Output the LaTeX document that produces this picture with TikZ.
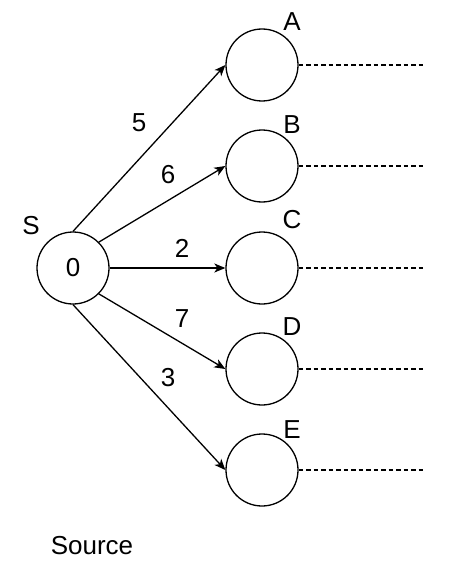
\documentclass[tikz,border=0pt]{standalone}
\usepackage{fontspec}
\setmainfont{Liberation Sans}
\usetikzlibrary{arrows.meta,positioning}

\begin{document}
\begin{tikzpicture}[
  x=1pt, y=-1pt,
  vertex/.style={circle, draw, line width=1.3pt, minimum size=72pt, inner sep=0pt, font=\fontsize{26}{30}\selectfont},
  arrow/.style={-{Stealth[length=11pt, width=9pt, inset=3pt]}, line width=1.3pt},
  stub/.style={dash pattern=on 4.5pt off 3pt, line width=1.2pt},
  txt/.style={font=\fontsize{26}{30}\selectfont, inner sep=0pt},
]
\useasboundingbox (0,0) rectangle (466,567);

% Source
\node[vertex] (src) at (73,268) {0};
\node[txt] (srclbl) at (31,226) {S};
\node[txt] (srctext) at (92,546) {Source};

% Targets
\node[vertex] (A) at (262,65) {};
\node[vertex] (B) at (262,166) {};
\node[vertex] (C) at (262,268) {};
\node[vertex] (D) at (262,369) {};
\node[vertex] (E) at (262,470) {};

\node[txt] (Albl) at (292,22) {A};
\node[txt] (Blbl) at (292,125) {B};
\node[txt] (Clbl) at (292,220) {C};
\node[txt] (Dlbl) at (292,327) {D};
\node[txt] (Elbl) at (292,430) {E};

% Edges
\draw[arrow] (src.north) -- (A.west);
\draw[arrow] (src.north east) -- (B.west);
\draw[arrow] (src.east) -- (C.west);
\draw[arrow] (src.south east) -- (D.west);
\draw[arrow] (src.south) -- (E.west);

% Weights
\node[txt] (w5) at (139,123) {5};
\node[txt] (w6) at (168,175) {6};
\node[txt] (w2) at (182,248) {2};
\node[txt] (w7) at (182,319) {7};
\node[txt] (w3) at (168,378) {3};

% Continuations
\coordinate (Aend) at (425,65);
\coordinate (Bend) at (425,166);
\coordinate (Cend) at (425,268);
\coordinate (Dend) at (425,369);
\coordinate (Eend) at (425,470);
\draw[stub] (A.east) -- (Aend);
\draw[stub] (B.east) -- (Bend);
\draw[stub] (C.east) -- (Cend);
\draw[stub] (D.east) -- (Dend);
\draw[stub] (E.east) -- (Eend);

\end{tikzpicture}
\end{document}
